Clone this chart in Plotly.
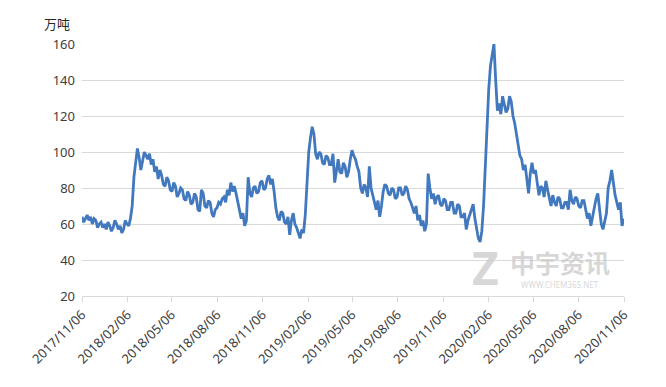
import plotly.graph_objects as go
import pandas as pd

start_date = "2017-11-06"
# two readings per week (every 3.5 days)
values = [
    64, 61, 63, 65, 62, 64, 60, 63, 62, 58, 60, 61, 58, 60, 57, 61, 59, 56, 58, 62,
    60, 57, 59, 55, 57, 62, 60, 59, 63, 70, 86, 96, 102, 97, 90, 95, 100, 98, 96, 99,
    93, 96, 89, 92, 85, 90, 87, 82, 81, 86, 84, 79, 78, 83, 81, 75, 77, 80, 79, 74,
    73, 78, 76, 71, 72, 77, 75, 68, 67, 79, 77, 70, 69, 73, 72, 66, 64, 68, 69, 72,
    71, 74, 75, 72, 79, 76, 83, 78, 81, 77, 72, 68, 63, 66, 59, 62, 86, 77, 75, 80,
    81, 77, 78, 83, 84, 79, 80, 85, 87, 82, 85, 78, 69, 64, 62, 67, 66, 61, 60, 64,
    54, 62, 66, 60, 58, 55, 52, 57, 55, 65, 82, 100, 108, 114, 110, 99, 96, 100, 99, 94,
    93, 98, 97, 93, 93, 99, 83, 90, 96, 89, 88, 94, 92, 86, 89, 96, 101, 98, 96, 92,
    89, 80, 77, 82, 80, 75, 92, 80, 76, 72, 68, 73, 64, 70, 78, 82, 81, 77, 76, 80,
    79, 74, 75, 80, 80, 76, 77, 81, 79, 74, 72, 69, 66, 70, 62, 65, 59, 62, 56, 60,
    88, 80, 74, 77, 71, 75, 76, 71, 70, 74, 73, 68, 68, 72, 72, 66, 66, 71, 70, 64,
    64, 66, 57, 62, 65, 69, 71, 63, 56, 52, 50, 56, 70, 95, 118, 135, 148, 155, 160, 140,
    123, 127, 121, 131, 126, 122, 124, 131, 128, 120, 116, 110, 106, 98, 96, 90, 93, 85, 77, 88,
    94, 88, 90, 83, 76, 81, 80, 75, 84, 79, 74, 70, 76, 72, 70, 75, 74, 69, 69, 72,
    72, 68, 79, 73, 71, 75, 74, 70, 69, 73, 73, 68, 63, 66, 59, 64, 70, 74, 77, 70,
    60, 57, 61, 66, 80, 84, 90, 82, 76, 72, 68, 72, 59, 63,
]
dates = pd.date_range(start_date, periods=len(values), freq="84h")

tick_dates = ["2017-11-06", "2018-02-06", "2018-05-06", "2018-08-06", "2018-11-06",
              "2019-02-06", "2019-05-06", "2019-08-06", "2019-11-06", "2020-02-06",
              "2020-05-06", "2020-08-06", "2020-11-06"]
tick_labels = [d.replace("-", "/") for d in tick_dates]
y_ticks = [20, 40, 60, 80, 100, 120, 140, 160]

fig = go.Figure()
fig.add_trace(go.Scatter(x=dates, y=values, mode="lines",
                         line=dict(color="#4178BE", width=2.8), showlegend=False))

font_family = "Noto Sans, Open Sans, sans-serif"
fig.update_layout(
    width=650, height=371,
    margin=dict(l=74, r=34, t=36, b=83),
    paper_bgcolor="white", plot_bgcolor="white",
    font=dict(family=font_family, color="#404040"),
    xaxis=dict(
        type="date", range=[tick_dates[0], tick_dates[-1]],
        tickvals=tick_dates, ticktext=tick_labels, tickangle=-45,
        showgrid=False, showline=True, linecolor="#d9d9d9", linewidth=1,
        ticks="outside", ticklen=5, tickcolor="#d9d9d9", automargin=False,
        tickfont=dict(size=13, color="#404040"), zeroline=False,
    ),
    yaxis=dict(
        range=[20, 160], tickvals=y_ticks, showgrid=True, gridcolor="#d9d9d9",
        gridwidth=1, zeroline=False, showline=False, ticks="", automargin=False,
        ticklabelstandoff=6,
        tickfont=dict(size=13, color="#404040"),
    ),
)
fig.add_annotation(text="万吨", xref="paper", yref="paper", x=-0.046, y=1.082,
                   xanchor="center", yanchor="middle", showarrow=False,
                   font=dict(size=13, color="#262626", family="Noto Sans CJK SC"))
# watermark
wm = "rgba(205,205,205,0.8)"
fig.add_annotation(text="<b>Z</b>", xref="paper", yref="paper", x=0.744, y=0.115,
                   xanchor="center", yanchor="middle", showarrow=False,
                   font=dict(size=46, color=wm))
fig.add_annotation(text="<b>中宇资讯</b>", xref="paper", yref="paper", x=0.882, y=0.135,
                   xanchor="center", yanchor="middle", showarrow=False,
                   font=dict(size=25, color=wm, family="Noto Sans CJK SC"))
fig.add_annotation(text="WWW.CHEM365.NET", xref="paper", yref="paper", x=0.882, y=0.044,
                   xanchor="center", yanchor="middle", showarrow=False,
                   font=dict(size=8, color=wm))

fig.write_html("out.html")
